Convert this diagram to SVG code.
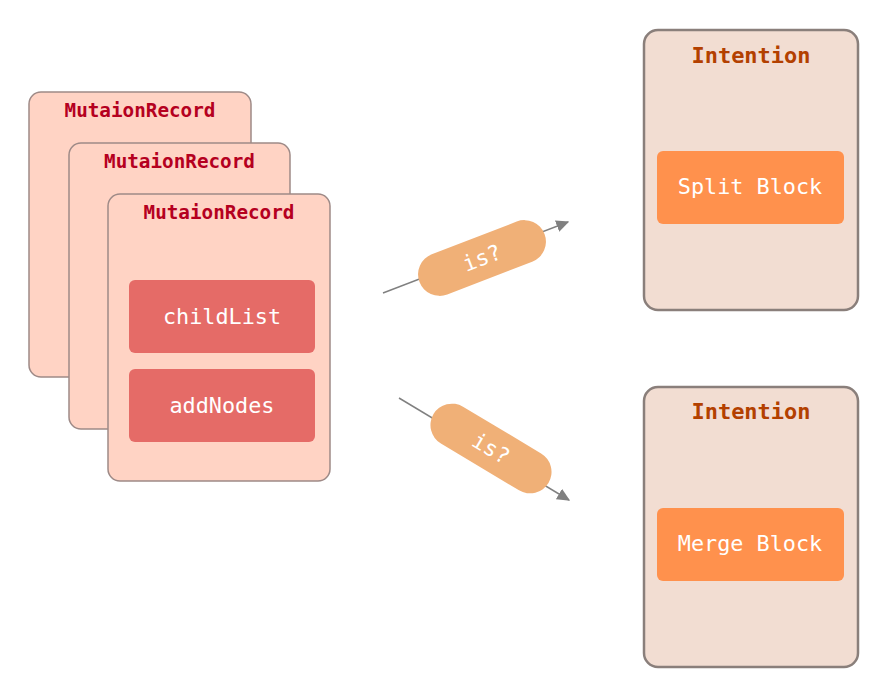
<svg xmlns="http://www.w3.org/2000/svg" width="887" height="697" viewBox="0 0 887 697">
<style>
.card{fill:#ffd3c4;stroke:#9e8a87;stroke-width:1.5}
.rec{font-family:"DejaVu Sans Mono","Liberation Mono",monospace;font-weight:bold;font-size:19.3px;fill:#b5001f;text-anchor:middle}
.inner{fill:#e56b67}
.lbl{font-family:"DejaVu Sans Mono","Liberation Mono",monospace;font-size:21.8px;fill:#ffffff;text-anchor:middle}
.int{fill:#f2ddd2;stroke:#8a7f7b;stroke-width:2.5}
.ttl{font-family:"DejaVu Sans Mono","Liberation Mono",monospace;font-weight:bold;font-size:22px;fill:#b34000;text-anchor:middle}
.blk{fill:#ff914d}
.pill{fill:#f0b077}
.edge{stroke:#808080;stroke-width:1.5;fill:none}
</style>
<defs>
<marker id="ah" viewBox="0 0 10 10" refX="9" refY="5" markerWidth="13" markerHeight="12" markerUnits="userSpaceOnUse" orient="auto" preserveAspectRatio="none">
<path d="M0,0 L10,5 L0,10 z" fill="#808080"/>
</marker>
</defs>
<rect width="887" height="697" fill="#ffffff"/>
<g id="record1"><rect class="card" x="29" y="92" width="222" height="285" rx="12"/><text class="rec" x="140" y="117">MutaionRecord</text></g>
<g id="record2"><rect class="card" x="69" y="143" width="221" height="286" rx="12"/><text class="rec" x="179.5" y="168">MutaionRecord</text></g>
<g id="record3"><rect class="card" x="108" y="194" width="222" height="287" rx="12"/><text class="rec" x="219" y="219">MutaionRecord</text></g>
<g id="childList"><rect class="inner" x="129" y="280" width="186" height="73" rx="6"/><text class="lbl" x="222" y="324">childList</text></g>
<g id="addNodes"><rect class="inner" x="129" y="369" width="186" height="73" rx="6"/><text class="lbl" x="222" y="413">addNodes</text></g>
<g id="intention1"><rect class="int" x="644" y="30" width="214" height="280" rx="14"/><text class="ttl" x="751" y="63">Intention</text></g>
<g id="split"><rect class="blk" x="657" y="151" width="187" height="73" rx="6"/><text class="lbl" x="750" y="194">Split Block</text></g>
<g id="intention2"><rect class="int" x="644" y="387" width="214" height="280" rx="14"/><text class="ttl" x="751" y="419">Intention</text></g>
<g id="merge"><rect class="blk" x="657" y="508" width="187" height="73" rx="6"/><text class="lbl" x="750" y="551">Merge Block</text></g>
<g id="connectors">
<line class="edge" x1="383" y1="293" x2="568" y2="222" marker-end="url(#ah)"/>
<line class="edge" x1="399" y1="398" x2="569" y2="500" marker-end="url(#ah)"/>
<g transform="translate(482,258) rotate(-21.1)"><rect class="pill" x="-67" y="-21.5" width="134" height="43" rx="21.5"/><text class="lbl" x="0" y="7.5">is?</text></g>
<g transform="translate(491,448.5) rotate(30.9)"><rect class="pill" x="-67" y="-21.5" width="134" height="43" rx="21.5"/><text class="lbl" x="0" y="7.5">is?</text></g>
</g>
</svg>
